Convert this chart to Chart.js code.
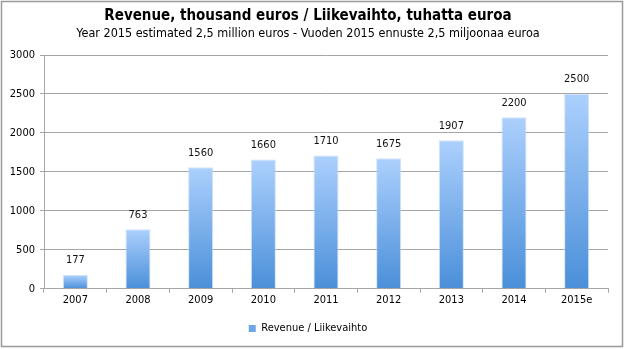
<!DOCTYPE html>
<html>
<head>
<meta charset="utf-8">
<script src="https://cdn.jsdelivr.net/npm/chart.js@4"></script>
<style>
  html, body { margin: 0; padding: 0; background: #fff; }
  #wrap { position: relative; width: 625px; height: 349px; }
</style>
</head>
<body>
<div id="wrap"><canvas id="chart" width="625" height="349"></canvas></div>
<script>
var years = ['2007', '2008', '2009', '2010', '2011', '2012', '2013', '2014', '2015e'];
var revenue = [177, 763, 1560, 1660, 1710, 1675, 1907, 2200, 2500];
var seriesName = 'Revenue / Liikevaihto';
var titleText = 'Revenue, thousand euros / Liikevaihto, tuhatta euroa';
var subtitleText = 'Year 2015 estimated 2,5 million euros - Vuoden 2015 ennuste 2,5 miljoonaa euroa';

var FONT = "'DejaVu Sans Condensed', 'Liberation Sans', Arial, sans-serif";
var GRID = '#a6a6a6';

// per-bar vertical gradient, light at the top, darker at the base
function barFill(ctx) {
    var chart = ctx.chart;
    var y = chart.scales.y;
    if (!y || ctx.type !== 'data') return '#6fa6e6';
    var top = y.getPixelForValue(revenue[ctx.dataIndex]);
    var base = y.getPixelForValue(0);
    var g = chart.ctx.createLinearGradient(0, top, 0, base);
    g.addColorStop(0, '#acd0fd');
    g.addColorStop(1, '#4a8fd9');
    return g;
}

var valueLabels = {
    id: 'valueLabels',
    afterDatasetsDraw: function (chart) {
        var c = chart.ctx;
        var meta = chart.getDatasetMeta(0);
        c.save();
        c.font = '11px ' + FONT;
        c.fillStyle = '#111';
        c.textAlign = 'center';
        c.textBaseline = 'bottom';
        meta.data.forEach(function (bar, i) {
            c.fillText(String(revenue[i]), bar.x, bar.y - 9);
        });
        c.restore();
    }
};

var frame = {
    id: 'frame',
    afterDraw: function (chart) {
        var c = chart.ctx;
        c.save();
        c.strokeStyle = '#9a9a9a';
        c.lineWidth = 1.5;
        c.strokeRect(1.5, 1.5, 621, 345);
        c.restore();
    }
};

new Chart(document.getElementById('chart').getContext('2d'), {
    type: 'bar',
    data: {
        labels: years,
        datasets: [{
            label: seriesName,
            data: revenue,
            backgroundColor: barFill,
            borderColor: 'rgba(190, 215, 250, 0.7)',
            borderWidth: 1,
            barPercentage: 0.4,
            categoryPercentage: 1
        }]
    },
    options: {
        responsive: false,
        animation: false,
        layout: { padding: { top: 7, left: 8, right: 17, bottom: 5 } },
        plugins: {
            title: {
                display: true,
                text: titleText,
                color: '#000',
                font: { family: FONT, size: 15, weight: 'bold' },
                padding: { top: 0, bottom: 1 }
            },
            subtitle: {
                display: true,
                text: subtitleText,
                color: '#000',
                font: { family: FONT, size: 12.5 },
                padding: { top: 0, bottom: 14 }
            },
            legend: {
                position: 'bottom',
                labels: {
                    color: '#000',
                    font: { family: FONT, size: 11 },
                    boxWidth: 7,
                    boxHeight: 7,
                    padding: 8,
                    generateLabels: function () {
                        return [{ text: seriesName, fillStyle: '#6fa6e6', strokeStyle: '#6fa6e6', lineWidth: 0, datasetIndex: 0 }];
                    }
                }
            },
            tooltip: { enabled: false }
        },
        scales: {
            x: {
                grid: {
                    display: true,
                    drawOnChartArea: false,
                    drawTicks: true,
                    tickLength: 4,
                    color: GRID,
                    offset: true
                },
                border: { color: GRID },
                ticks: { color: '#000', font: { family: FONT, size: 11 }, padding: 1 },
                afterFit: function (scale) { scale.height += 7; }
            },
            y: {
                min: 0,
                max: 3000,
                ticks: {
                    stepSize: 500,
                    color: '#000',
                    font: { family: FONT, size: 11 },
                    padding: 5,
                    callback: function (v) { return String(v); }
                },
                grid: { color: GRID, tickLength: 4 },
                border: { color: GRID },
                afterFit: function (scale) { scale.width = 36; }
            }
        }
    },
    plugins: [valueLabels, frame]
});
</script>
</body>
</html>
